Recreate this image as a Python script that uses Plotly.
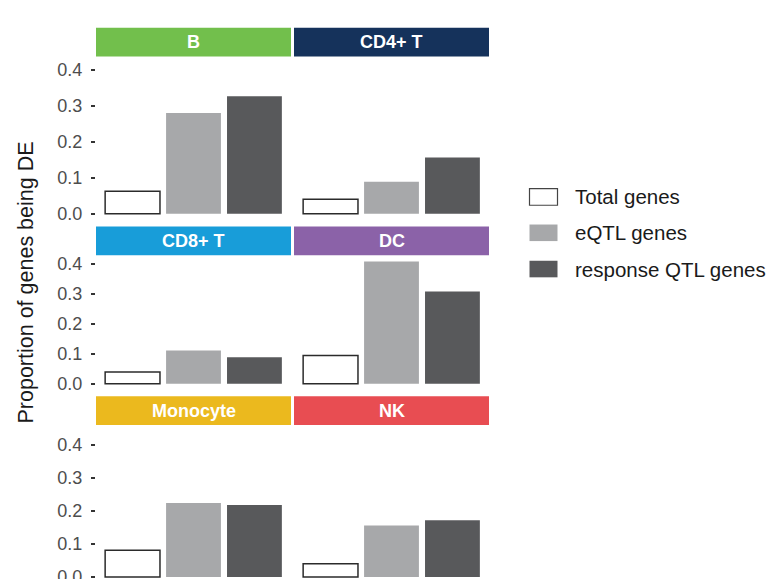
import plotly.graph_objects as go

# ---------------- data ----------------
cell_types = ["B", "CD4+ T", "CD8+ T", "DC", "Monocyte", "NK"]
strip_colors = ["#72BF4C", "#15325B", "#189DD9", "#8B62A8", "#EBB91E", "#E84D52"]
gene_sets = ["Total genes", "eQTL genes", "response QTL genes"]
total_genes = [0.062, 0.040, 0.039, 0.094, 0.081, 0.040]
eqtl_genes = [0.280, 0.089, 0.111, 0.408, 0.224, 0.156]
response_qtl_genes = [0.327, 0.156, 0.088, 0.308, 0.218, 0.172]
y_ticks = [0.0, 0.1, 0.2, 0.3, 0.4]
y_ticklabels = ["0.0", "0.1", "0.2", "0.3", "0.4"]

# ---------------- layout geometry (target image pixels) ----------------
IMG_H = 579
H = 587            # page height that ends up as the 579-px picture
W = 778
S = H / IMG_H      # vertical page/picture ratio
col_px = [(96, 291), (294, 489)]
# (strip top, strip bottom/panel top, panel bottom, y-range)
rows = [
    (26.7, 55.7, 216.0, [-0.0083, 0.437]),
    (226.0, 254.7, 386.0, [-0.009, 0.4287]),
    (396.0, 424.7, 579.0, [-0.006, 0.460]),
]

FONT = "Liberation Sans, Arial, Helvetica, sans-serif"
bar_fill = ["#FFFFFF", "#A7A8AA", "#58595B"]
bar_line_col = ["#2B2B2B", "#A7A8AA", "#58595B"]
bar_line_w = [1.5, 0, 0]


def px_x(v):
    return v / W


def px_y(v):
    return max(0.0, 1 - (v * S) / H)


fig = go.Figure()
shapes, annotations = [], []
layout_axes = {}

for i, ct in enumerate(cell_types):
    r, c = divmod(i, 2)
    n = i + 1
    xa = "x" if n == 1 else f"x{n}"
    ya = "y" if n == 1 else f"y{n}"
    vals = [total_genes[i], eqtl_genes[i], response_qtl_genes[i]]
    fig.add_trace(go.Bar(
        x=gene_sets, y=vals, xaxis=xa, yaxis=ya, width=0.9,
        marker=dict(color=bar_fill, line=dict(color=bar_line_col, width=bar_line_w)),
        showlegend=False, hoverinfo="x+y",
    ))
    s_top, p_top, p_bot, yr = rows[r]
    x0, x1 = col_px[c]
    xkey = "xaxis" if n == 1 else f"xaxis{n}"
    ykey = "yaxis" if n == 1 else f"yaxis{n}"
    layout_axes[xkey] = dict(
        domain=[px_x(x0), px_x(x1)], anchor=ya, type="category",
        categoryorder="array", categoryarray=gene_sets, range=[-0.6, 2.6],
        showticklabels=False, ticks="", showline=False, showgrid=False,
        zeroline=False, fixedrange=True,
    )
    yax = dict(
        domain=[px_y(p_bot), px_y(p_top)], anchor=xa, range=yr,
        showgrid=False, zeroline=False, showline=False, fixedrange=True,
        tickvals=y_ticks, ticktext=y_ticklabels, ticklabeloverflow="allow",
    )
    if c == 0:
        yax.update(ticks="outside", ticklen=4, tickwidth=2, tickcolor="#333333",
                   showticklabels=True, ticklabelstandoff=5,
                   tickfont=dict(family=FONT, size=18, color="#4D4D4D"))
    else:
        yax.update(ticks="", showticklabels=False)
    layout_axes[ykey] = yax

    shapes.append(dict(type="rect", xref="paper", yref="paper",
                       x0=px_x(x0), x1=px_x(x1), y0=px_y(p_top), y1=px_y(s_top),
                       fillcolor=strip_colors[i], line=dict(width=0), layer="below"))
    annotations.append(dict(xref="paper", yref="paper",
                            x=px_x((x0 + x1) / 2), y=px_y((s_top + p_top) / 2),
                            text=ct, showarrow=False, xanchor="center", yanchor="middle",
                            font=dict(family=FONT, size=18, color="white", weight="bold")))

annotations.append(dict(xref="paper", yref="paper", x=px_x(26), y=px_y(282),
                        text="Proportion of genes being DE", textangle=-90,
                        showarrow=False, xanchor="center", yanchor="middle",
                        font=dict(family=FONT, size=21.5, color="#1A1A1A")))

legend_rows_y = [196.3, 232.2, 268.5]
for k, name in enumerate(gene_sets):
    cy = legend_rows_y[k]
    shapes.append(dict(type="rect", xref="paper", yref="paper",
                       x0=px_x(529.5), x1=px_x(557.5), y0=px_y(cy + 8.3), y1=px_y(cy - 8.3),
                       fillcolor=bar_fill[k],
                       line=dict(color="#444444" if k == 0 else bar_fill[k], width=1.2 if k == 0 else 0)))
    annotations.append(dict(xref="paper", yref="paper", x=px_x(573), y=px_y(cy),
                            text=name, showarrow=False, xanchor="left", yanchor="middle",
                            font=dict(family=FONT, size=20.5, color="#1A1A1A")))

fig.update_layout(
    width=W, height=H, margin=dict(l=0, r=0, t=0, b=0),
    paper_bgcolor="white", plot_bgcolor="white",
    barmode="overlay", showlegend=False,
    shapes=shapes, annotations=annotations,
    **layout_axes,
)

fig.write_html(
    "out.html",
    config={"displayModeBar": False},
    post_script="document.body.style.margin='0';document.body.style.overflow='hidden';",
)
